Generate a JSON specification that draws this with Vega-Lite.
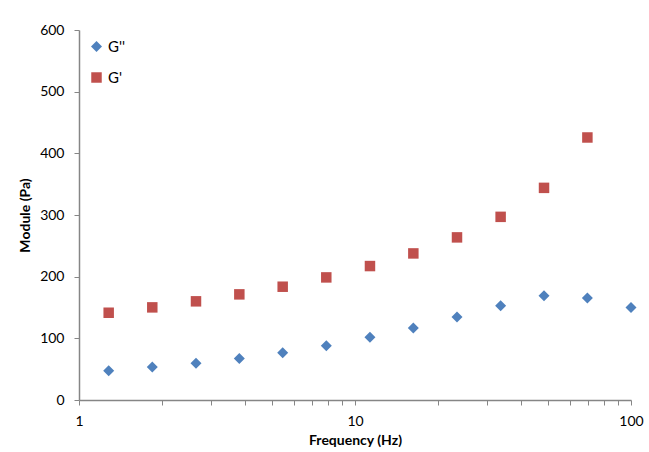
{
  "$schema": "https://vega.github.io/schema/vega-lite/v6.json",
  "width": 552,
  "height": 370,
  "autosize": {"type": "none"},
  "padding": {"left": 79, "top": 30, "right": 18, "bottom": 52},
  "background": "white",
  "config": {
    "view": {"stroke": null},
    "font": "Lato",
    "axis": {"grid": false, "domainColor": "#868686", "tickColor": "#868686", "tickSize": 5, "labelColor": "#000000", "titleColor": "#000000", "labelFont": "Lato", "titleFont": "Lato", "labelFontSize": 14, "titleFontSize": 14, "titleFontWeight": "bold", "domainWidth": 1.5}
  },
  "data": {
    "values": [
      {"f": 1.281, "series": "G''", "value": 47.5},
      {"f": 1.843, "series": "G''", "value": 53.5},
      {"f": 2.654, "series": "G''", "value": 59.5},
      {"f": 3.81, "series": "G''", "value": 67.5},
      {"f": 5.47, "series": "G''", "value": 76.7},
      {"f": 7.87, "series": "G''", "value": 88},
      {"f": 11.33, "series": "G''", "value": 101.6},
      {"f": 16.27, "series": "G''", "value": 116.7},
      {"f": 23.42, "series": "G''", "value": 134.5},
      {"f": 33.7, "series": "G''", "value": 152.8},
      {"f": 48.4, "series": "G''", "value": 169},
      {"f": 69.5, "series": "G''", "value": 165.3},
      {"f": 100, "series": "G''", "value": 150.2},
      {"f": 1.281, "series": "G'", "value": 141.5},
      {"f": 1.843, "series": "G'", "value": 150.2},
      {"f": 2.654, "series": "G'", "value": 160},
      {"f": 3.81, "series": "G'", "value": 171.3},
      {"f": 5.47, "series": "G'", "value": 183.7},
      {"f": 7.87, "series": "G'", "value": 198.8},
      {"f": 11.33, "series": "G'", "value": 217.2},
      {"f": 16.27, "series": "G'", "value": 237.7},
      {"f": 23.42, "series": "G'", "value": 263.7},
      {"f": 33.7, "series": "G'", "value": 297},
      {"f": 48.4, "series": "G'", "value": 344},
      {"f": 69.5, "series": "G'", "value": 425.7}
    ]
  },
  "mark": {"type": "point", "filled": true, "opacity": 1},
  "encoding": {
    "x": {
      "field": "f", "type": "quantitative", "title": "Frequency (Hz)",
      "scale": {"type": "log", "domain": [1, 100], "nice": false},
      "axis": {"values": [1,2,3,4,5,6,7,8,9,10,20,30,40,50,60,70,80,90,100], "labelExpr": "datum.value == 1 || datum.value == 10 || datum.value == 100 ? format(datum.value, 'd') : ''", "labelPadding": 9, "titlePadding": 5, "labelFlush": false, "labelOverlap": false}
    },
    "y": {
      "field": "value", "type": "quantitative", "title": "Module (Pa)",
      "scale": {"domain": [0, 600], "nice": false},
      "axis": {"values": [0,100,200,300,400,500,600], "labelPadding": 10, "titlePadding": 7}
    },
    "color": {
      "field": "series", "type": "nominal",
      "scale": {"domain": ["G''", "G'"], "range": ["#4F81BD", "#C0504D"]},
      "legend": {"title": null, "orient": "none", "legendX": 10, "legendY": 9, "padding": 0, "rowPadding": 15, "labelFontSize": 15, "labelFont": "Lato", "labelColor": "#000000", "labelOffset": 4, "symbolSize": 110}
    },
    "shape": {
      "field": "series", "type": "nominal",
      "scale": {"domain": ["G''", "G'"], "range": ["diamond", "square"]},
      "legend": null
    },
    "size": {
      "field": "series", "type": "nominal",
      "scale": {"domain": ["G''", "G'"], "range": [121, 110]},
      "legend": null
    }
  }
}
